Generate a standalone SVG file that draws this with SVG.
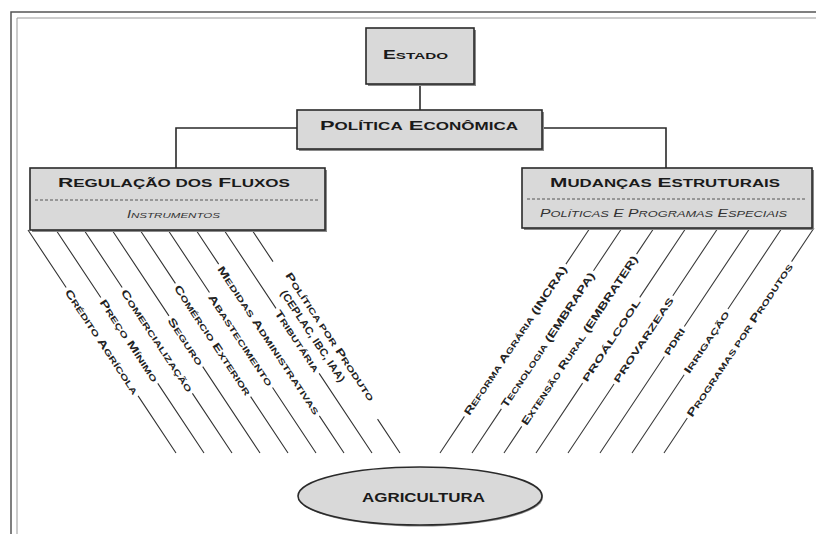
<svg xmlns="http://www.w3.org/2000/svg" width="816" height="534" viewBox="0 0 816 534">
<style>
.bg{fill:#fff}
.frame1{fill:none;stroke:#555;stroke-width:1.5}
.frame2{fill:none;stroke:#999;stroke-width:1}
.box{fill:#d9d9d9;stroke:#2a2a2a;stroke-width:1.6}
.shadow{fill:#8a8a8a}
.dash{stroke:#555;stroke-width:1;stroke-dasharray:3 2;fill:none}
.conn{stroke:#2a2a2a;stroke-width:1.6;fill:none}
.ln{stroke:#333;stroke-width:1.1;fill:none}
.rln{stroke:#3a3a3a;stroke-width:1.1;fill:none}
.t{font-family:"Liberation Sans",Arial,sans-serif;font-weight:bold;fill:#1a1a1a}
.ti{font-family:"Liberation Sans",Arial,sans-serif;font-style:italic;fill:#333}
.lbl{font-family:"Liberation Sans",Arial,sans-serif;font-weight:bold;font-size:10.5px;fill:#222}
.caps{font-size:9px}
.s{font-size:8px}
</style>
<rect class="bg" x="0" y="0" width="816" height="534"/>
<path class="frame1" d="M11,534 V12 H816"/>
<path class="frame2" d="M17,534 V18 H816"/>

<g id="connectors">
  <path class="conn" d="M420,84 V110"/>
  <path class="conn" d="M297,128 H176 V168"/>
  <path class="conn" d="M542,128 H666 V168"/>
  <g id="left-lines">
    <path class="ln" d="M28,230 L66.16,287.5 M138.07,395.83 L176,453"/>
    <path class="ln" d="M56,230 L100.8,297.5 M157.77,383.33 L204,453"/>
    <path class="ln" d="M84,230 L122.16,287.5 M192.41,393.33 L232,453"/>
    <path class="ln" d="M112,230 L168.97,315.83 M202.71,366.66 L260,453"/>
    <path class="ln" d="M140,230 L175.4,283.33 M250.62,396.66 L288,453"/>
    <path class="ln" d="M168,230 L209.48,292.5 M272.54,387.49 L316,453"/>
    <path class="ln" d="M196,230 L218.68,264.17 M319.34,415.83 L344,453"/>
    <path class="ln" d="M224,230 L275.99,308.33 M319.13,373.33 L372,453"/>
    <path class="ln" d="M252,230 L273.02,261.67 M377.55,419.16 L400,453"/>
  </g>
  <g id="right-lines">
    <path class="rln" d="M440,453 L464.41,416.39 M565.92,264.11 L590,228"/>
    <path class="rln" d="M472,453 L501.4,408.9 M593.48,270.77 L622,228"/>
    <path class="rln" d="M504,453 L521.75,426.37 M636.57,254.13 L654,228"/>
    <path class="rln" d="M536,453 L582.59,383.1 M639.73,297.4 L686,228"/>
    <path class="rln" d="M568,453 L614.04,383.94 M672.84,295.73 L718,228"/>
    <path class="rln" d="M600,453 L664.35,356.48 M684.31,326.52 L750,228"/>
    <path class="rln" d="M632,453 L684.14,374.78 M727.96,309.05 L782,228"/>
    <path class="rln" d="M664,453 L687.3,418.05 M791.58,261.62 L814,228"/>
  </g>
</g>

<g id="connector-labels">
  <text class="lbl" transform="translate(67.82,290) rotate(56.43)" y="4" textLength="124" lengthAdjust="spacingAndGlyphs">C<tspan class="s">RÉDITO</tspan> A<tspan class="s">GRÍCOLA</tspan></text>
  <text class="lbl" transform="translate(102.46,300) rotate(56.43)" y="4" textLength="97" lengthAdjust="spacingAndGlyphs">P<tspan class="s">REÇO</tspan> M<tspan class="s">ÍNIMO</tspan></text>
  <text class="lbl" transform="translate(123.82,290) rotate(56.43)" y="4" textLength="121" lengthAdjust="spacingAndGlyphs">C<tspan class="s">OMERCIALIZAÇÃO</tspan></text>
  <text class="lbl" transform="translate(170.63,318.33) rotate(56.43)" y="4" textLength="55" lengthAdjust="spacingAndGlyphs">S<tspan class="s">EGURO</tspan></text>
  <text class="lbl" transform="translate(177.06,285.83) rotate(56.43)" y="4" textLength="130" lengthAdjust="spacingAndGlyphs">C<tspan class="s">OMÉRCIO</tspan> E<tspan class="s">XTERIOR</tspan></text>
  <text class="lbl" transform="translate(211.14,295) rotate(56.43)" y="4" textLength="108" lengthAdjust="spacingAndGlyphs">A<tspan class="s">BASTECIMENTO</tspan></text>
  <text class="lbl" transform="translate(220.34,266.67) rotate(56.43)" y="4" textLength="176" lengthAdjust="spacingAndGlyphs">M<tspan class="s">EDIDAS</tspan> A<tspan class="s">DMINISTRATIVAS</tspan></text>
  <text class="lbl" transform="translate(277.65,310.83) rotate(56.43)" y="4" textLength="72" lengthAdjust="spacingAndGlyphs">T<tspan class="s">RIBUTÁRIA</tspan></text>
  <text class="lbl" transform="translate(282.97,276.66) rotate(56.43)" y="-2.5" textLength="152" lengthAdjust="spacingAndGlyphs">P<tspan class="s">OLÍTICA POR</tspan> P<tspan class="s">RODUTO</tspan></text>
  <text class="lbl" transform="translate(289.61,286.66) rotate(56.43)" y="11.5" textLength="108" lengthAdjust="spacingAndGlyphs">(CEPLAC, IBC, IAA)</text>

  <text class="lbl" transform="translate(466.07,413.89) rotate(-56.31)" y="4" textLength="177" lengthAdjust="spacingAndGlyphs">R<tspan class="s">EFORMA</tspan> A<tspan class="s">GRÁRIA</tspan> (INCRA)</text>
  <text class="lbl" transform="translate(503.06,406.4) rotate(-56.31)" y="4" textLength="160" lengthAdjust="spacingAndGlyphs">T<tspan class="s">ECNOLOGIA</tspan> (EMBRAPA)</text>
  <text class="lbl" transform="translate(523.41,423.88) rotate(-56.31)" y="4" textLength="201" lengthAdjust="spacingAndGlyphs">E<tspan class="s">XTENSÃO</tspan> R<tspan class="s">URAL</tspan> (EMBRATER)</text>
  <text class="lbl caps" transform="translate(584.26,380.61) rotate(-56.31)" y="3.5" textLength="97" lengthAdjust="spacingAndGlyphs">PROÁLCOOL</text>
  <text class="lbl caps" transform="translate(615.7,381.44) rotate(-56.31)" y="3.5" textLength="100" lengthAdjust="spacingAndGlyphs">PROVARZEAS</text>
  <text class="lbl caps" transform="translate(666.01,353.98) rotate(-56.31)" y="3.5" textLength="30" lengthAdjust="spacingAndGlyphs">PDRI</text>
  <text class="lbl" transform="translate(685.81,372.29) rotate(-56.31)" y="4" textLength="73" lengthAdjust="spacingAndGlyphs">I<tspan class="s">RRIGAÇÃO</tspan></text>
  <text class="lbl" transform="translate(688.96,415.56) rotate(-56.31)" y="4" textLength="182" lengthAdjust="spacingAndGlyphs">P<tspan class="s">ROGRAMAS POR</tspan> P<tspan class="s">RODUTOS</tspan></text>
</g>

<g id="estado">
  <rect class="shadow" x="368" y="30" width="108" height="56"/>
  <rect class="box" x="366" y="28" width="108" height="56"/>
  <text class="t" x="415.5" y="59" text-anchor="middle" font-size="12" textLength="65" lengthAdjust="spacingAndGlyphs">E<tspan font-size="9.5">STADO</tspan></text>
</g>

<g id="politica">
  <rect class="shadow" x="299" y="112" width="245" height="39"/>
  <rect class="box" x="297" y="110" width="245" height="39"/>
  <text class="t" x="419" y="130" text-anchor="middle" font-size="13.5" textLength="198" lengthAdjust="spacingAndGlyphs">P<tspan font-size="10.5">OLÍTICA</tspan> E<tspan font-size="10.5">CONÔMICA</tspan></text>
</g>

<g id="regulacao">
  <rect class="shadow" x="32" y="170" width="295" height="62"/>
  <rect class="box" x="30" y="168" width="295" height="62"/>
  <path class="dash" d="M35,200 H320"/>
  <text class="t" x="174" y="187" text-anchor="middle" font-size="13" textLength="232" lengthAdjust="spacingAndGlyphs">R<tspan font-size="10.5">EGULAÇÃO DOS</tspan> F<tspan font-size="10.5">LUXOS</tspan></text>
  <text class="ti" x="173.5" y="218" text-anchor="middle" font-size="10" textLength="93" lengthAdjust="spacingAndGlyphs">I<tspan font-size="8">NSTRUMENTOS</tspan></text>
</g>

<g id="mudancas">
  <rect class="shadow" x="524" y="170" width="290" height="60"/>
  <rect class="box" x="522" y="168" width="290" height="60"/>
  <path class="dash" d="M527,199 H807"/>
  <text class="t" x="665" y="187" text-anchor="middle" font-size="13" textLength="230" lengthAdjust="spacingAndGlyphs">M<tspan font-size="10.5">UDANÇAS</tspan> E<tspan font-size="10.5">STRUTURAIS</tspan></text>
  <text class="ti" x="663.5" y="217" text-anchor="middle" font-size="10.5" textLength="247" lengthAdjust="spacingAndGlyphs">P<tspan font-size="8.5">OLÍTICAS</tspan> E P<tspan font-size="8.5">ROGRAMAS</tspan> E<tspan font-size="8.5">SPECIAIS</tspan></text>
</g>

<g id="agricultura">
  <ellipse class="shadow" cx="421" cy="497.5" rx="122" ry="29"/>
  <ellipse class="box" cx="420" cy="496" rx="122" ry="29"/>
  <text class="t" x="423.5" y="502" text-anchor="middle" font-size="12" textLength="123" lengthAdjust="spacingAndGlyphs">AGRICULTURA</text>
</g>
</svg>
